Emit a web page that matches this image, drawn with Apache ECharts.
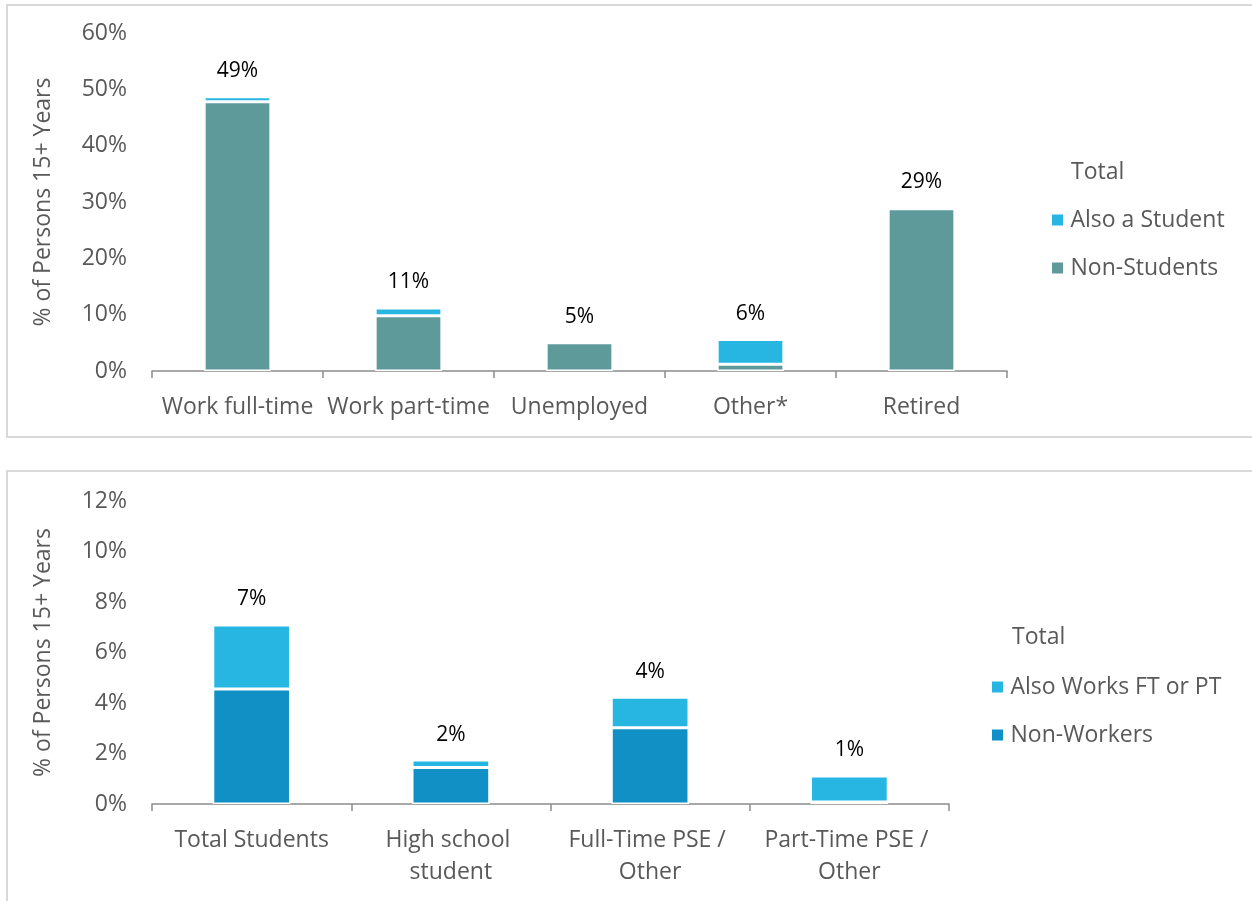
<!DOCTYPE html>
<html>
<head>
<meta charset="utf-8">
<script src="https://cdn.jsdelivr.net/npm/echarts@6/dist/echarts.min.js"></script>
<style>
  html, body { margin: 0; padding: 0; background: #ffffff; }
  #chart { width: 1252px; height: 901px; }
</style>
</head>
<body>
<div id="chart"></div>
<script>
// ---------- Data ----------
const statusCategories = ['Work full-time', 'Work part-time', 'Unemployed', 'Other*', 'Retired'];
const nonStudents      = [47.8, 9.8, 5.0, 1.2, 28.8];
const alsoStudent      = [0.9, 1.4, 0.0, 4.4, 0.0];

const studentCategories = ['Total Students', 'High school student', 'Full-Time PSE / Other', 'Part-Time PSE / Other'];
const nonWorkers        = [4.55, 1.45, 3.02, 0.08];
const alsoWorks         = [2.54, 0.29, 1.21, 1.03];

const yTicks1 = { min: 0, max: 60, interval: 10 };
const yTicks2 = { min: 0, max: 12, interval: 2 };

// ---------- Styling ----------
const FONT = 'Open Sans';
const GREY_TEXT = '#595959';
const TEAL = '#5f9a9b';
const LIGHT_BLUE = '#27b6e2';
const DARK_BLUE = '#1190c5';
const FS = 23;

function totalsOf(a, b) { return a.map((v, i) => v + b[i]); }
const totals1 = totalsOf(nonStudents, alsoStudent);
const totals2 = totalsOf(nonWorkers, alsoWorks);

const chart = echarts.init(document.getElementById('chart'), null, { renderer: 'canvas' });

const axisLabelStyle = { color: GREY_TEXT, fontFamily: FONT, fontSize: FS };
const square = 'path://M0,0L12,0L12,12L0,12Z';

function xAxis(gridIndex, data, extra) {
  return Object.assign({
    type: 'category', gridIndex, data,
    axisLine: { show: true, lineStyle: { color: '#8c8c8c', width: 1.5 } },
    axisTick: { show: true, length: 7, lineStyle: { color: '#8c8c8c', width: 1.5 } },
    axisLabel: Object.assign({ margin: 20, interval: 0, lineHeight: 32 }, axisLabelStyle),
    splitLine: { show: false }
  }, extra || {});
}
function yAxis(gridIndex, ticks) {
  return {
    type: 'value', gridIndex, min: ticks.min, max: ticks.max, interval: ticks.interval,
    name: '% of Persons 15+ Years', nameLocation: 'middle', nameGap: 97, nameRotate: 90,
    nameTextStyle: { color: GREY_TEXT, fontFamily: FONT, fontSize: FS },
    axisLine: { show: false }, axisTick: { show: false }, splitLine: { show: false },
    axisLabel: Object.assign({ margin: 25, formatter: '{value}%' }, axisLabelStyle)
  };
}
function totalLabel(totals) {
  return {
    show: true, position: 'top', distance: 15,
    color: '#000000', fontFamily: FONT, fontSize: 21,
    formatter: p => Math.round(totals[p.dataIndex]) + '%'
  };
}
const barBorder = { borderColor: '#ffffff', borderWidth: 1.5 };
const legendText = { color: GREY_TEXT, fontFamily: FONT, fontSize: FS, lineHeight: 26 };

chart.setOption({
  animation: false,
  backgroundColor: '#ffffff',
  graphic: [
    { type: 'rect', shape: { x: 7, y: 5, width: 1300, height: 432 }, style: { fill: 'none', stroke: '#d9d9d9', lineWidth: 2 }, z: -1 },
    { type: 'rect', shape: { x: 7, y: 471, width: 1300, height: 500 }, style: { fill: 'none', stroke: '#d9d9d9', lineWidth: 2 }, z: -1 }
  ],
  title: [
    { text: 'Total', left: 1071, top: 159, padding: 0, textStyle: Object.assign({ fontWeight: 'normal' }, legendText) },
    { text: 'Total', left: 1012, top: 624, padding: 0, textStyle: Object.assign({ fontWeight: 'normal' }, legendText) }
  ],
  legend: [
    {
      data: [{ name: 'Also a Student', icon: square }, { name: 'Non-Students', icon: square }],
      orient: 'vertical', left: 1050, top: 207, padding: 0,
      itemWidth: 16, itemHeight: 13, itemGap: 22,
      textStyle: legendText
    },
    {
      data: [{ name: 'Also Works FT or PT', icon: square }, { name: 'Non-Workers', icon: square }],
      orient: 'vertical', left: 990, top: 674, padding: 0,
      itemWidth: 16, itemHeight: 13, itemGap: 22,
      textStyle: legendText
    }
  ],
  grid: [
    { left: 152, top: 33, width: 855, height: 338, containLabel: false },
    { left: 152, top: 501, width: 797, height: 303, containLabel: false }
  ],
  xAxis: [
    xAxis(0, statusCategories),
    xAxis(1, studentCategories, { axisLabel: Object.assign({ margin: 20, interval: 0, lineHeight: 32, width: 180, overflow: 'break' }, axisLabelStyle) })
  ],
  yAxis: [yAxis(0, yTicks1), yAxis(1, yTicks2)],
  series: [
    { name: 'Non-Students', type: 'bar', stack: 's1', xAxisIndex: 0, yAxisIndex: 0, data: nonStudents, barWidth: '39%',
      itemStyle: Object.assign({ color: TEAL }, barBorder) },
    { name: 'Also a Student', type: 'bar', stack: 's1', xAxisIndex: 0, yAxisIndex: 0, data: alsoStudent, barWidth: '39%',
      itemStyle: Object.assign({ color: LIGHT_BLUE }, barBorder), label: totalLabel(totals1) },
    { name: 'Non-Workers', type: 'bar', stack: 's2', xAxisIndex: 1, yAxisIndex: 1, data: nonWorkers, barWidth: '39%',
      itemStyle: Object.assign({ color: DARK_BLUE }, barBorder) },
    { name: 'Also Works FT or PT', type: 'bar', stack: 's2', xAxisIndex: 1, yAxisIndex: 1, data: alsoWorks, barWidth: '39%',
      itemStyle: Object.assign({ color: LIGHT_BLUE }, barBorder), label: totalLabel(totals2) }
  ]
});
</script>
</body>
</html>
